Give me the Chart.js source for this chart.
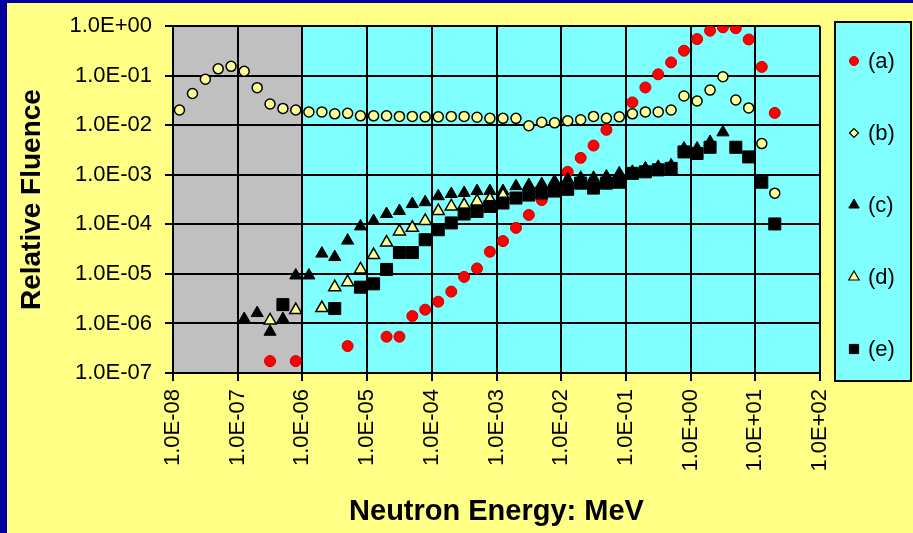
<!DOCTYPE html>
<html>
<head>
<meta charset="utf-8">
<script src="https://cdn.jsdelivr.net/npm/chart.js@4.4.0/dist/chart.umd.min.js"></script>
<style>
  html, body { margin: 0; padding: 0; background: #FFFF85; overflow: hidden; }
  #frame { position: absolute; left: 0; top: 0; width: 913px; height: 533px; box-sizing: border-box;
           border-left: 7px solid #0000A0; border-top: 3px solid #0000A0; }
  #wrap { position: absolute; left: 0; top: 0; width: 913px; height: 533px; }
</style>
</head>
<body>
<div id="frame"></div>
<div id="wrap"><canvas id="fluenceChart"></canvas></div>
<script>
// Neutron energy (MeV) and relative fluence for each spectrum
const aEnergy = [3.16e-7, 7.9e-7, 5.0e-6, 2.0e-5, 3.16e-5, 5.0e-5, 7.9e-5, 1.26e-4, 2.0e-4, 3.16e-4, 5.0e-4, 7.9e-4,
                 1.26e-3, 2.0e-3, 3.16e-3, 5.0e-3, 7.9e-3, 1.26e-2, 2.0e-2, 3.16e-2, 5.0e-2, 0.126, 0.2, 0.316,
                 0.5, 0.79, 1.26, 2.0, 3.16, 5.0, 7.9, 12.6, 20];
const aFluence = [1.74e-7, 1.74e-7, 3.5e-7, 5.4e-7, 5.4e-7, 1.41e-6, 1.9e-6, 2.75e-6, 4.4e-6, 8.7e-6, 1.29e-5, 2.8e-5,
                  4.6e-5, 8.5e-5, 1.55e-4, 3.1e-4, 6.2e-4, 1.15e-3, 2.2e-3, 3.9e-3, 8.1e-3, 2.9e-2, 5.8e-2, 0.107,
                  0.186, 0.32, 0.55, 0.81, 0.95, 0.91, 0.54, 0.151, 0.0178];

const bEnergy = [1.26e-8, 2.0e-8, 3.16e-8, 5.0e-8, 7.9e-8, 1.26e-7, 2.0e-7, 3.16e-7, 5.0e-7, 7.9e-7,
                 1.26e-6, 2.0e-6, 3.16e-6, 5.0e-6, 7.9e-6, 1.26e-5, 2.0e-5, 3.16e-5, 5.0e-5, 7.9e-5,
                 1.26e-4, 2.0e-4, 3.16e-4, 5.0e-4, 7.9e-4, 1.26e-3, 2.0e-3, 3.16e-3, 5.0e-3, 7.9e-3,
                 1.26e-2, 2.0e-2, 3.16e-2, 5.0e-2, 7.9e-2, 0.126, 0.2, 0.316, 0.5, 0.79,
                 1.26, 2.0, 3.16, 5.0, 7.9, 12.6, 20];
const bFluence = [0.0204, 0.0437, 0.085, 0.138, 0.155, 0.123, 0.0575, 0.0269, 0.0219, 0.0204,
                  0.0186, 0.0186, 0.017, 0.0174, 0.0155, 0.0155, 0.0155, 0.0151, 0.0151, 0.0148,
                  0.0148, 0.0151, 0.0151, 0.0145, 0.0138, 0.0138, 0.0138, 0.0098, 0.0115, 0.0112,
                  0.0123, 0.0129, 0.0151, 0.0138, 0.0148, 0.017, 0.0186, 0.0186, 0.0204, 0.0389,
                  0.0309, 0.0513, 0.0955, 0.0324, 0.0224, 0.00427, 0.000427];

const cEnergy = [1.26e-7, 2.0e-7, 3.16e-7, 5.0e-7, 7.9e-7, 1.26e-6, 2.0e-6, 3.16e-6, 5.0e-6, 7.9e-6,
                 1.26e-5, 2.0e-5, 3.16e-5, 5.0e-5, 7.9e-5, 1.26e-4, 2.0e-4, 3.16e-4, 5.0e-4, 7.9e-4,
                 1.26e-3, 2.0e-3, 3.16e-3, 5.0e-3, 7.9e-3, 1.26e-2, 2.0e-2, 3.16e-2, 5.0e-2, 7.9e-2,
                 0.126, 0.2, 0.316, 0.5, 0.79, 1.26, 2.0, 3.16];
const cFluence = [1.23e-6, 1.62e-6, 6.8e-7, 1.23e-6, 9.3e-6, 9.3e-6, 2.57e-5, 2.19e-5, 4.7e-5, 9.1e-5,
                  1.17e-4, 1.62e-4, 1.86e-4, 2.57e-4, 2.8e-4, 3.7e-4, 4.1e-4, 4.3e-4, 4.7e-4, 4.7e-4,
                  4.7e-4, 5.9e-4, 6.2e-4, 6.5e-4, 7.4e-4, 8.1e-4, 8.7e-4, 8.7e-4, 9.3e-4, 1.07e-3,
                  1.15e-3, 1.35e-3, 1.45e-3, 1.55e-3, 3.4e-3, 3.4e-3, 4.6e-3, 7.2e-3];

const dEnergy = [3.16e-7, 7.9e-7, 2.0e-6, 3.16e-6, 5.0e-6, 7.9e-6, 1.26e-5, 2.0e-5, 3.16e-5, 5.0e-5,
                 7.9e-5, 1.26e-4, 2.0e-4, 3.16e-4, 5.0e-4, 7.9e-4, 1.26e-3];
const dFluence = [1.15e-6, 1.86e-6, 2.04e-6, 5.4e-6, 6.8e-6, 1.23e-5, 2.4e-5, 4.3e-5, 7.2e-5, 8.5e-5,
                  1.17e-4, 1.86e-4, 2.3e-4, 2.45e-4, 2.9e-4, 3.2e-4, 3.9e-4];

const eEnergy = [5.0e-7, 3.16e-6, 7.9e-6, 1.26e-5, 2.0e-5, 3.16e-5, 5.0e-5, 7.9e-5, 1.26e-4, 2.0e-4,
                 3.16e-4, 5.0e-4, 7.9e-4, 1.26e-3, 2.0e-3, 3.16e-3, 5.0e-3, 7.9e-3, 1.26e-2, 2.0e-2,
                 3.16e-2, 5.0e-2, 7.9e-2, 0.126, 0.2, 0.316, 0.5, 0.79, 1.26, 2.0,
                 5.0, 7.9, 12.6, 20];
const eFluence = [2.4e-6, 2.0e-6, 5.4e-6, 6.3e-6, 1.23e-5, 2.7e-5, 2.7e-5, 4.9e-5, 7.8e-5, 1.07e-4,
                  1.62e-4, 1.82e-4, 2.3e-4, 2.7e-4, 3.4e-4, 3.9e-4, 4.3e-4, 4.7e-4, 5.1e-4, 6.8e-4,
                  5.4e-4, 6.8e-4, 7.1e-4, 1.07e-3, 1.15e-3, 1.26e-3, 1.35e-3, 2.9e-3, 2.7e-3, 3.6e-3,
                  3.6e-3, 2.3e-3, 7.1e-4, 1.02e-4];

const seriesNames = ['(a)', '(b)', '(c)', '(d)', '(e)'];

const xTickValues = [1e-8, 1e-7, 1e-6, 1e-5, 1e-4, 1e-3, 1e-2, 1e-1, 1e0, 1e1, 1e2];
const xTickLabels = ['1.0E-08', '1.0E-07', '1.0E-06', '1.0E-05', '1.0E-04', '1.0E-03',
                     '1.0E-02', '1.0E-01', '1.0E+00', '1.0E+01', '1.0E+02'];
const yTickValues = [1e-7, 1e-6, 1e-5, 1e-4, 1e-3, 1e-2, 1e-1, 1e0];
const yTickLabels = ['1.0E-07', '1.0E-06', '1.0E-05', '1.0E-04', '1.0E-03', '1.0E-02', '1.0E-01', '1.0E+00'];

// thermal region (grey) ends here, the rest of the plot is cyan
const thermalEnd = 1e-6;

const FONT = 'Liberation Sans, Arial, sans-serif';

function points(xs, ys) {
    return xs.map((x, i) => ({ x: x, y: ys[i] }));
}

// grey / cyan plot background
const regionPlugin = {
    id: 'regions',
    beforeDraw(chart) {
        const { ctx, chartArea: area, scales } = chart;
        const split = scales.x.getPixelForValue(thermalEnd);
        ctx.save();
        ctx.fillStyle = '#C0C0C0';
        ctx.fillRect(area.left, area.top, split - area.left, area.bottom - area.top);
        ctx.fillStyle = '#80FFFF';
        ctx.fillRect(split, area.top, area.right - split, area.bottom - area.top);
        ctx.restore();
    }
};

// boxed legend down the right hand side
const boxLegendPlugin = {
    id: 'boxLegend',
    afterDraw(chart) {
        const ctx = chart.ctx;
        ctx.save();
        ctx.fillStyle = '#80FFFF';
        ctx.strokeStyle = '#000';
        ctx.lineWidth = 2;
        ctx.fillRect(835, 22, 76, 359);
        ctx.strokeRect(835, 22, 76, 359);

        const legendStyles = [
            { pointStyle: 'circle', radius: 4.5, bg: '#FF0000', border: '#CC0000', bw: 1 },
            { pointStyle: 'rectRot', radius: 4.5, bg: '#FFFF99', border: '#000', bw: 1.2 },
            { pointStyle: 'triangle', radius: 6, bg: '#000', border: '#000', bw: 1 },
            { pointStyle: 'triangle', radius: 6, bg: '#FFFF99', border: '#000', bw: 1.2 },
            { pointStyle: 'rect', radius: 6.5, bg: '#000', border: '#000', bw: 1 }
        ];
        ctx.font = '22px ' + FONT;
        ctx.textBaseline = 'middle';
        ctx.textAlign = 'left';
        seriesNames.forEach((name, i) => {
            const y = 61 + i * 72;
            const st = legendStyles[i];
            ctx.fillStyle = st.bg;
            ctx.strokeStyle = st.border;
            ctx.lineWidth = st.bw;
            Chart.helpers.drawPoint(ctx, { pointStyle: st.pointStyle, radius: st.radius, borderWidth: st.bw, rotation: 0 }, 854, y);
            ctx.fillStyle = '#000';
            ctx.fillText(name, 868, y + 1);
        });
        ctx.restore();
    }
};

const ctxFluence = document.getElementById('fluenceChart').getContext('2d');
const fluenceChart = new Chart(ctxFluence, {
    type: 'scatter',
    data: {
        datasets: [
            {
                label: seriesNames[0],
                data: points(aEnergy, aFluence),
                pointStyle: 'circle',
                pointRadius: 5.5,
                pointHoverRadius: 5.5,
                backgroundColor: '#FF0000',
                borderColor: '#CC0000',
                borderWidth: 1,
                order: 0
            },
            {
                label: seriesNames[1],
                data: points(bEnergy, bFluence),
                pointStyle: 'circle',
                pointRadius: 5,
                pointHoverRadius: 5,
                backgroundColor: '#FFFF99',
                borderColor: '#000',
                borderWidth: 1.5,
                order: -1
            },
            {
                label: seriesNames[2],
                data: points(cEnergy, cFluence),
                pointStyle: 'triangle',
                pointRadius: 7,
                pointHoverRadius: 7,
                backgroundColor: '#000',
                borderColor: '#000',
                borderWidth: 1,
                order: -2
            },
            {
                label: seriesNames[3],
                data: points(dEnergy, dFluence),
                pointStyle: 'triangle',
                pointRadius: 7,
                pointHoverRadius: 7,
                backgroundColor: '#FFFF99',
                borderColor: '#000',
                borderWidth: 1.5,
                order: -3
            },
            {
                label: seriesNames[4],
                data: points(eEnergy, eFluence),
                pointStyle: 'rect',
                pointRadius: 8.5,
                pointHoverRadius: 8.5,
                backgroundColor: '#000',
                borderColor: '#000',
                borderWidth: 1,
                order: -4
            }
        ]
    },
    options: {
        responsive: true,
        maintainAspectRatio: false,
        animation: false,
        layout: { padding: { left: 0, right: 93, top: 23, bottom: 0 } },
        plugins: {
            legend: { display: false },
            tooltip: { enabled: false }
        },
        scales: {
            x: {
                type: 'logarithmic',
                position: 'bottom',
                min: 1e-8,
                max: 1e2,
                afterBuildTicks: s => { s.ticks = xTickValues.map(v => ({ value: v })); },
                afterFit: s => { s.height = 160; },
                ticks: {
                    autoSkip: false,
                    minRotation: 90,
                    maxRotation: 90,
                    padding: 8,
                    color: '#000',
                    font: { family: FONT, size: 22 },
                    callback: (v, i) => xTickLabels[i]
                },
                grid: { color: '#000', lineWidth: 2, tickLength: 8, tickColor: '#000', tickWidth: 2 },
                border: { display: true, color: '#000', width: 2 },
                title: {
                    display: true,
                    text: 'Neutron Energy: MeV',
                    color: '#000',
                    font: { family: FONT, size: 29, weight: 'bold', lineHeight: 1.2 },
                    padding: { top: 0, bottom: 4 }
                }
            },
            y: {
                type: 'logarithmic',
                position: 'left',
                min: 1e-7,
                max: 1,
                afterBuildTicks: s => { s.ticks = yTickValues.map(v => ({ value: v })); },
                afterFit: s => { s.width = 173; },
                ticks: {
                    padding: 13,
                    color: '#000',
                    font: { family: FONT, size: 22 },
                    callback: (v, i) => yTickLabels[i]
                },
                grid: { color: '#000', lineWidth: 2, tickLength: 8, tickColor: '#000', tickWidth: 2 },
                border: { display: true, color: '#000', width: 2 },
                title: {
                    display: true,
                    text: 'Relative Fluence',
                    color: '#000',
                    font: { family: FONT, size: 28, weight: 'bold', lineHeight: 1.2 },
                    padding: { top: 15, bottom: 0 }
                }
            }
        }
    },
    plugins: [regionPlugin, boxLegendPlugin]
});
</script>
</body>
</html>
